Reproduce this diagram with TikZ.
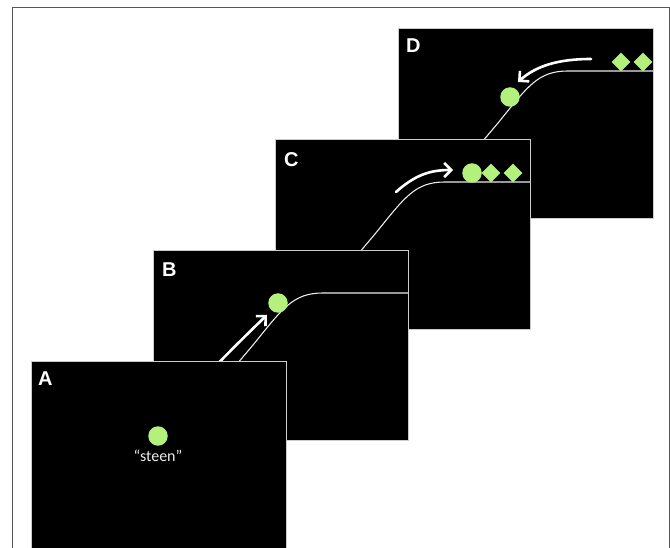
\documentclass[tikz,border=0pt]{standalone}
\usepackage{fontspec}
\setmainfont{Liberation Sans}
\newfontfamily\labelfont{Carlito}
\usetikzlibrary{arrows.meta,shapes.geometric}
\definecolor{ballgreen}{HTML}{B4F07C}
\definecolor{framegray}{HTML}{555555}
\tikzset{
  panelbox/.style={fill=black, draw=none, minimum width=255pt, minimum height=190pt,
                   anchor=north west, inner sep=0pt, outer sep=0pt},
  paneledge/.style={draw=white!80!black, line width=0.8pt},
  track/.style={draw=white!92!black, line width=1.1pt},
  motion/.style={draw=white, line width=2.6pt, line cap=round,
                 -{Straight Barb[length=7pt,width=14pt]}},
  ball/.style={circle, fill=ballgreen, minimum size=19.5pt, inner sep=0pt},
  gem/.style={diamond, fill=ballgreen, minimum width=19pt, minimum height=19pt, inner sep=0pt},
  tag/.style={text=white, font=\bfseries\fontsize{20}{20}\selectfont, anchor=north west, inner sep=0pt},
  word/.style={text=white!92!black, font=\labelfont\fontsize{16}{17}\selectfont, inner sep=0pt},
}
\begin{document}
\begin{tikzpicture}[x=1pt,y=-1pt]
  \useasboundingbox (0,0) rectangle (670,548);
  \clip (0,0) rectangle (670,548);
  \fill[white] (0,0) rectangle (670,548);
  % outer frame
  \draw[framegray, line width=1pt] (12.5,620) -- (12.5,7.5) -- (669,7.5) -- (669,620);

  % ---------- panel D ----------
  \begin{scope}[shift={(398,28)}]
    \node[panelbox] (pD) at (0,0) {};
    \begin{scope}
      \clip (pD.north west) rectangle (pD.south east);
      \draw[track] (20,190) -- (100,95) .. controls (130,58) and (140,43) .. (170,43) -- (260,43);
      \node[ball] (ballD) at (112,69) {};
      \node[gem] (gemD1) at (223,34) {};
      \node[gem] (gemD2) at (245,34) {};
      \coordinate (sD) at (193,31);
      \coordinate (eD) at (120,54);
      \draw[motion] (sD) .. controls (160,31) and (138,38) .. (eD);
    \end{scope}
    \draw[paneledge] (pD.north west) rectangle (pD.south east);
    \node[tag] (tD) at (8,11) {D};
  \end{scope}

  % ---------- panel C ----------
  \begin{scope}[shift={(275,139)}]
    \node[panelbox] (pC) at (0,0) {};
    \begin{scope}
      \clip (pC.north west) rectangle (pC.south east);
      \draw[track] (20,190) -- (100,95) .. controls (130,58) and (140,43) .. (170,43) -- (260,43);
      \node[ball] (ballC) at (197,34) {};
      \node[gem] (gemC1) at (216,34) {};
      \node[gem] (gemC2) at (238,34) {};
      \coordinate (sC) at (121,53);
      \coordinate (eC) at (178,31);
      \draw[motion] (sC) .. controls (140,36) and (155,31) .. (eC);
    \end{scope}
    \draw[paneledge] (pC.north west) rectangle (pC.south east);
    \node[tag] (tC) at (9,13) {C};
  \end{scope}

  % ---------- panel B ----------
  \begin{scope}[shift={(153,250)}]
    \node[panelbox] (pB) at (0,0) {};
    \begin{scope}
      \clip (pB.north west) rectangle (pB.south east);
      \draw[track] (20,190) -- (100,95) .. controls (130,58) and (140,43) .. (170,43) -- (260,43);
      \node[ball] (ballB) at (125,53) {};
      \coordinate (sB) at (30,150);
      \coordinate (eB) at (114,65);
      \draw[motion] (sB) .. controls (60,118) and (90,88) .. (eB);
    \end{scope}
    \draw[paneledge] (pB.north west) rectangle (pB.south east);
    \node[tag] (tB) at (9,13) {B};
  \end{scope}

  % ---------- panel A ----------
  \begin{scope}[shift={(31,361)}]
    \node[panelbox] (pA) at (0,0) {};
    \draw[paneledge] (pA.south west) -- (pA.north west) -- (pA.north east) -- (pA.south east);
    \node[ball] (ballA) at (127,75) {};
    \node[word, anchor=north] (wA) at (127,89) {“steen”};
    \node[tag] (tA) at (7,11) {A};
  \end{scope}
\end{tikzpicture}
\end{document}
